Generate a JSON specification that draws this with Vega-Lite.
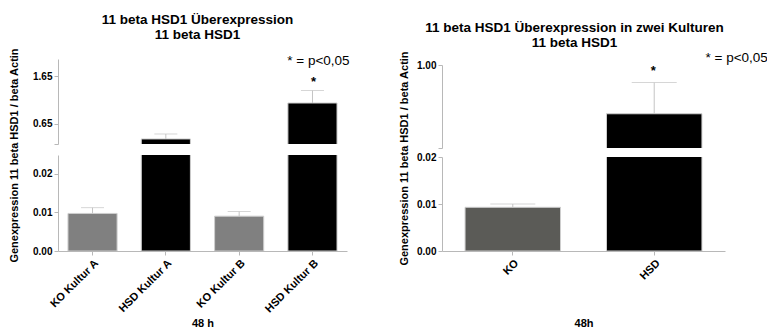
{
  "$schema": "https://vega.github.io/schema/vega-lite/v6.json",
  "padding": {"left": 7, "top": 13, "right": 0, "bottom": 0},
  "background": "white",
  "config": {
    "view": {"stroke": null},
    "font": "Liberation Sans",
    "axis": {"domainColor": "#b8b8b8", "tickColor": "#b8b8b8", "tickSize": 4, "labelFont": "Liberation Sans", "labelFontWeight": "bold", "labelColor": "#000000", "labelFontSize": 10, "labelOverlap": false, "labelFlush": false, "titleFont": "Liberation Sans", "titleFontWeight": "bold", "titleColor": "#000000", "titleFontSize": 11, "grid": false},
    "title": {"font": "Liberation Sans", "fontSize": 13.5, "fontWeight": "bold", "color": "#000000", "lineHeight": 15, "anchor": "middle",
              "subtitleFont": "Liberation Sans", "subtitleFontSize": 13.5, "subtitleFontWeight": "bold", "subtitleColor": "#000000", "subtitleLineHeight": 15}
  },
  "datasets": {
    "a": [
      {"g": "KO Kultur A", "t": "KO", "v": 0.0097, "e": 0.0112},
      {"g": "HSD Kultur A", "t": "HSD", "v": 0.327, "e": 0.432},
      {"g": "KO Kultur B", "t": "KO", "v": 0.0090, "e": 0.0102},
      {"g": "HSD Kultur B", "t": "HSD", "v": 1.088, "e": 1.354, "star": "*"}
    ],
    "b": [
      {"g": "KO", "t": "KO", "v": 0.0093, "e": 0.0100},
      {"g": "HSD", "t": "HSD", "v": 0.678, "e": 0.884, "star": "*"}
    ],
    "na": [{"g": "HSD Kultur B", "note": "* = p<0,05"}],
    "nb": [{"g": "HSD", "note": "* = p<0,05"}]
  },
  "columns": 2,
  "spacing": 47,
  "concat": [
    {
      "spacing": 11,
      "bounds": "flush",
      "resolve": {"scale": {"y": "independent"}},
      "vconcat": [
        {
          "width": 289, "height": 85,
          "title": {"text": ["11 beta HSD1 Überexpression", "11 beta HSD1"], "offset": 12, "dx": -5},
          "layer": [
            {"data": {"name": "a"}, "mark": {"type": "bar", "clip": true, "stroke": "#cfcfcf", "strokeWidth": 1},
             "encoding": {
               "x": {"field": "g", "type": "nominal", "sort": null, "scale": {"paddingInner": 0.33, "paddingOuter": 0.136}, "axis": null},
               "y": {"field": "v", "type": "quantitative", "scale": {"domain": [0.22, 2.02], "nice": false, "zero": false},
                     "axis": {"title": null, "values": [0.22, 0.65, 1.65], "labelExpr": "datum.value < 0.3 ? '' : format(datum.value, '.2f')"}},
               "color": {"field": "t", "type": "nominal", "scale": {"domain": ["KO", "HSD"], "range": ["#808080", "#000000"]}, "legend": null}
             }},
            {"data": {"name": "a"}, "mark": {"type": "rule", "clip": true, "color": "#c4c4c4", "strokeWidth": 1},
             "encoding": {"x": {"field": "g", "type": "nominal", "sort": null}, "y": {"field": "v", "type": "quantitative"}, "y2": {"field": "e"}}},
            {"data": {"name": "a"}, "mark": {"type": "tick", "clip": true, "color": "#c4c4c4", "size": 23, "thickness": 1},
             "encoding": {"x": {"field": "g", "type": "nominal", "sort": null}, "y": {"field": "e", "type": "quantitative"}}},
            {"data": {"name": "a"}, "transform": [{"filter": "datum.star"}],
             "mark": {"type": "text", "fontSize": 13, "fontWeight": "bold", "dy": -4, "dx": 1, "baseline": "alphabetic", "color": "#000000"},
             "encoding": {"x": {"field": "g", "type": "nominal", "sort": null}, "y": {"field": "e", "type": "quantitative"}, "text": {"field": "star"}}},
            {"data": {"name": "na"}, "mark": {"type": "text", "fontSize": 13.5, "baseline": "alphabetic", "dx": 6, "color": "#000000"},
             "encoding": {"x": {"field": "g", "type": "nominal", "sort": null}, "y": {"datum": 1.9, "type": "quantitative"}, "text": {"field": "note"}}}
          ]
        },
        {
          "width": 289, "height": 96,
          "layer": [
            {"data": {"name": "a"}, "mark": {"type": "bar", "clip": true, "stroke": "#cfcfcf", "strokeWidth": 1},
             "encoding": {
               "x": {"field": "g", "type": "nominal", "sort": null, "scale": {"paddingInner": 0.33, "paddingOuter": 0.136},
                     "axis": {"title": "48 h", "labelAngle": -45, "labelFontSize": 11, "titleY": 75, "titleBaseline": "alphabetic"}},
               "y": {"field": "v", "type": "quantitative", "scale": {"domain": [0, 0.0248], "nice": false, "zero": false},
                     "axis": {"title": "Genexpression 11 beta HSD1 / beta Actin", "values": [0, 0.01, 0.02], "format": ".2f",
                              "titleX": -44, "titleY": 0, "titleAngle": 270, "titleAlign": "center", "titleBaseline": "middle"}},
               "color": {"field": "t", "type": "nominal", "scale": {"domain": ["KO", "HSD"], "range": ["#808080", "#000000"]}, "legend": null}
             }},
            {"data": {"name": "a"}, "mark": {"type": "rule", "clip": true, "color": "#c4c4c4", "strokeWidth": 1},
             "encoding": {"x": {"field": "g", "type": "nominal", "sort": null}, "y": {"field": "v", "type": "quantitative"}, "y2": {"field": "e"}}},
            {"data": {"name": "a"}, "mark": {"type": "tick", "clip": true, "color": "#c4c4c4", "size": 23, "thickness": 1},
             "encoding": {"x": {"field": "g", "type": "nominal", "sort": null}, "y": {"field": "e", "type": "quantitative"}}}
          ]
        }
      ]
    },
    {
      "spacing": 9,
      "bounds": "flush",
      "resolve": {"scale": {"y": "independent"}},
      "vconcat": [
        {
          "width": 283, "height": 89,
          "title": {"text": " ", "fontSize": 8, "subtitle": ["11 beta HSD1 Überexpression in zwei Kulturen", "11 beta HSD1"], "subtitlePadding": 0, "offset": 1, "dx": -9},
          "layer": [
            {"data": {"name": "b"}, "mark": {"type": "bar", "clip": true, "stroke": "#cfcfcf", "strokeWidth": 1},
             "encoding": {
               "x": {"field": "g", "type": "nominal", "sort": null, "scale": {"paddingInner": 0.325, "paddingOuter": 0.163}, "axis": null},
               "y": {"field": "v", "type": "quantitative", "scale": {"domain": [0.452, 1.0], "range": [89, 6], "nice": false, "zero": false},
                     "axis": {"title": null, "values": [0.452, 0.5, 0.75, 1.0], "labelExpr": "datum.value < 0.49 ? '' : format(datum.value, '.2f')"}},
               "color": {"field": "t", "type": "nominal", "scale": {"domain": ["KO", "HSD"], "range": ["#5b5b57", "#000000"]}, "legend": null}
             }},
            {"data": {"name": "b"}, "mark": {"type": "rule", "clip": true, "color": "#c4c4c4", "strokeWidth": 1},
             "encoding": {"x": {"field": "g", "type": "nominal", "sort": null}, "y": {"field": "v", "type": "quantitative"}, "y2": {"field": "e"}}},
            {"data": {"name": "b"}, "mark": {"type": "tick", "clip": true, "color": "#c4c4c4", "size": 45, "thickness": 1},
             "encoding": {"x": {"field": "g", "type": "nominal", "sort": null}, "y": {"field": "e", "type": "quantitative"}}},
            {"data": {"name": "b"}, "transform": [{"filter": "datum.star"}],
             "mark": {"type": "text", "fontSize": 13, "fontWeight": "bold", "dy": -8, "dx": -1, "baseline": "alphabetic", "color": "#000000"},
             "encoding": {"x": {"field": "g", "type": "nominal", "sort": null}, "y": {"field": "e", "type": "quantitative"}, "text": {"field": "star"}}},
            {"data": {"name": "nb"}, "mark": {"type": "text", "fontSize": 13.5, "baseline": "alphabetic", "dx": 82.5, "color": "#000000"},
             "encoding": {"x": {"field": "g", "type": "nominal", "sort": null}, "y": {"datum": 1.022, "type": "quantitative"}, "text": {"field": "note"}}}
          ]
        },
        {
          "width": 283, "height": 94,
          "layer": [
            {"data": {"name": "b"}, "mark": {"type": "bar", "clip": true, "stroke": "#cfcfcf", "strokeWidth": 1},
             "encoding": {
               "x": {"field": "g", "type": "nominal", "sort": null, "scale": {"paddingInner": 0.325, "paddingOuter": 0.163},
                     "axis": {"title": "48h", "labelAngle": -45, "labelFontSize": 11, "titleY": 75, "titleBaseline": "alphabetic"}},
               "y": {"field": "v", "type": "quantitative", "scale": {"domain": [0, 0.02], "nice": false, "zero": false},
                     "axis": {"title": "Genexpression 11 beta HSD1 / beta Actin", "values": [0, 0.01, 0.02], "format": ".2f",
                              "titleX": -38, "titleY": 1, "titleAngle": 270, "titleAlign": "center", "titleBaseline": "middle"}},
               "color": {"field": "t", "type": "nominal", "scale": {"domain": ["KO", "HSD"], "range": ["#5b5b57", "#000000"]}, "legend": null}
             }},
            {"data": {"name": "b"}, "mark": {"type": "rule", "clip": true, "color": "#c4c4c4", "strokeWidth": 1},
             "encoding": {"x": {"field": "g", "type": "nominal", "sort": null}, "y": {"field": "v", "type": "quantitative"}, "y2": {"field": "e"}}},
            {"data": {"name": "b"}, "mark": {"type": "tick", "clip": true, "color": "#c4c4c4", "size": 45, "thickness": 1},
             "encoding": {"x": {"field": "g", "type": "nominal", "sort": null}, "y": {"field": "e", "type": "quantitative"}}}
          ]
        }
      ]
    }
  ],
  "resolve": {"scale": {"color": "independent", "x": "independent", "y": "independent"}}
}
